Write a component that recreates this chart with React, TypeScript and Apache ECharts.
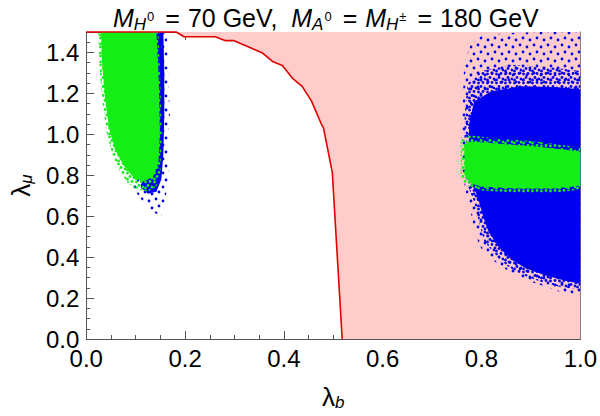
import React, { useEffect, useRef } from 'react';
import * as echarts from 'echarts';

// ---- tick labels ----
const xTickLabels = ['0.0', '0.2', '0.4', '0.6', '0.8', '1.0'];
const yTickLabels = ['0.0', '0.2', '0.4', '0.6', '0.8', '1.0', '1.2', '1.4'];

// ---- exclusion boundary (red line) ----
const boundaryX = [0, 0.182, 0.198, 0.261, 0.281, 0.298, 0.357, 0.377, 0.397, 0.417, 0.437, 0.456, 0.476, 0.48, 0.498, 0.518];
const boundaryY = [1.5, 1.5, 1.477, 1.477, 1.458, 1.458, 1.397, 1.356, 1.336, 1.275, 1.234, 1.162, 1.049, 1.033, 0.814, 0.0];

// ---- point clouds (outlines of the scatter regions) ----
const leftBlueSparse = [[0.135, 1.5], [0.163, 1.5], [0.166, 1.3], [0.169, 1.1], [0.165, 0.95], [0.167, 0.8], [0.16, 0.68], [0.152, 0.6], [0.135, 0.62], [0.115, 0.67], [0.1, 0.72], [0.09, 0.76], [0.12, 0.8], [0.14, 1.0]];
const leftBlueDense = [[0.135, 1.5], [0.156, 1.5], [0.158, 1.3], [0.158, 1.1], [0.156, 0.9], [0.152, 0.78], [0.142, 0.72], [0.125, 0.71], [0.11, 0.74], [0.13, 0.9]];
const leftGreenSparse = [[0.024, 1.5], [0.146, 1.5], [0.15, 1.25], [0.153, 1.0], [0.15, 0.82], [0.142, 0.745], [0.125, 0.72], [0.105, 0.73], [0.085, 0.76], [0.068, 0.82], [0.053, 0.9], [0.042, 1.0], [0.033, 1.15], [0.027, 1.32]];
const leftGreenDense = [[0.03, 1.5], [0.142, 1.5], [0.147, 1.25], [0.149, 1.0], [0.146, 0.86], [0.135, 0.79], [0.115, 0.77], [0.095, 0.79], [0.075, 0.85], [0.058, 0.93], [0.046, 1.03], [0.038, 1.18], [0.032, 1.35]];

const rightBlueSparse = [[0.762, 1.15], [0.765, 1.35], [0.778, 1.44], [0.8, 1.48], [0.85, 1.495], [0.92, 1.5], [1.0, 1.5], [1.0, 0.22], [0.965, 0.225], [0.93, 0.255], [0.88, 0.295], [0.85, 0.34], [0.82, 0.39], [0.8, 0.44], [0.787, 0.51], [0.78, 0.6], [0.77, 0.7], [0.762, 0.8], [0.758, 0.95]];
const rightBlueMid = [[0.766, 1.1], [0.772, 1.25], [0.8, 1.31], [0.86, 1.34], [0.93, 1.33], [1.0, 1.31], [1.0, 0.245], [0.965, 0.25], [0.92, 0.28], [0.88, 0.315], [0.85, 0.36], [0.825, 0.42], [0.805, 0.48], [0.795, 0.57], [0.785, 0.67], [0.772, 0.75], [0.765, 0.9]];
const rightBlueDense = [[0.775, 1.05], [0.785, 1.16], [0.82, 1.21], [0.88, 1.235], [0.95, 1.23], [1.0, 1.22], [1.0, 0.27], [0.97, 0.285], [0.93, 0.31], [0.89, 0.345], [0.86, 0.39], [0.835, 0.45], [0.815, 0.52], [0.803, 0.6], [0.793, 0.69], [0.78, 0.76], [0.774, 0.9]];
const rightGreenSparse = [[0.758, 0.975], [0.775, 0.995], [0.83, 0.98], [0.91, 0.965], [0.97, 0.945], [1.0, 0.935], [1.0, 0.73], [0.95, 0.715], [0.87, 0.715], [0.8, 0.725], [0.772, 0.745], [0.758, 0.79]];
const rightGreenDense = [[0.765, 0.95], [0.78, 0.965], [0.83, 0.955], [0.91, 0.94], [0.97, 0.925], [1.0, 0.915], [1.0, 0.75], [0.95, 0.735], [0.87, 0.735], [0.8, 0.745], [0.778, 0.76], [0.766, 0.8]];

// ---- styling ----
const FONT = 'Liberation Sans, Arial, Helvetica, sans-serif';
const BLUE = '#0000ee';
const GREEN = '#14ee14';
const PINK = '#ffcccc';
const RED = '#e00000';
const FRAME = '#555555';

// texture tiles used to give the sparse rims a dotted look (pure styling)
const SPARSE_TILE = { size: 14, dots: [[2, 3], [9, 5], [5, 10], [12, 12]] };
const MID_TILE = { size: 9, dots: [[1.5, 2], [6, 1.5], [4, 5.5], [8, 7], [1.5, 8]] };

function makePattern(color: string, tile: { size: number; dots: number[][] }) {
  const c = document.createElement('canvas');
  c.width = tile.size;
  c.height = tile.size;
  const ctx = c.getContext('2d');
  if (ctx) {
    ctx.fillStyle = color;
    tile.dots.forEach(([x, y]) => {
      ctx.beginPath();
      ctx.arc(x, y, 1.4, 0, Math.PI * 2);
      ctx.fill();
    });
  }
  return { type: 'pattern', image: c, repeat: 'repeat', imageWidth: tile.size, imageHeight: tile.size };
}

function polygonSeries(name: string, pts: number[][], fill: any, z: number) {
  return {
    type: 'custom',
    name,
    xAxisIndex: 0,
    yAxisIndex: 0,
    clip: true,
    silent: true,
    z,
    data: [[0.5, 0.5]],
    renderItem: (_params: any, api: any) => ({
      type: 'polygon',
      shape: { points: pts.map((p) => api.coord(p)) },
      style: { fill },
    }),
  };
}

const nameRich = {
  l: { fontSize: 26, fontFamily: FONT, color: '#000', lineHeight: 28 },
  s: { fontSize: 17, fontFamily: FONT, fontStyle: 'italic', color: '#000', lineHeight: 18, verticalAlign: 'bottom' },
};

function xAxisDef(position: 'top' | 'bottom', major: boolean, labels: boolean) {
  return {
    type: 'value',
    min: 0,
    max: 1,
    interval: major ? 0.2 : 0.05,
    position,
    axisLine: { show: major, onZero: false, lineStyle: { color: FRAME, width: 1 } },
    axisTick: { show: true, inside: true, length: major ? 8 : 4, lineStyle: { color: FRAME, width: 1 } },
    axisLabel: labels
      ? {
          show: true,
          fontSize: 24,
          color: '#000',
          fontFamily: FONT,
          margin: 7,
          formatter: (v: number) => xTickLabels[Math.round(v / 0.2)] ?? '',
        }
      : { show: false },
    splitLine: { show: false },
    ...(labels
      ? { name: '{l|λ}{s|b}', nameLocation: 'middle', nameGap: 44, nameTextStyle: { rich: nameRich } }
      : {}),
  };
}

function yAxisDef(position: 'left' | 'right', major: boolean, labels: boolean) {
  return {
    type: 'value',
    min: 0,
    max: 1.5,
    interval: major ? 0.2 : 0.05,
    position,
    axisLine: { show: major, onZero: false, lineStyle: { color: FRAME, width: 1 } },
    axisTick: { show: true, inside: true, length: major ? 8 : 4, lineStyle: { color: FRAME, width: 1 } },
    axisLabel: labels
      ? {
          show: true,
          fontSize: 24,
          color: '#000',
          fontFamily: FONT,
          margin: 7,
          formatter: (v: number) => (v > 1.45 ? '' : yTickLabels[Math.round(v / 0.2)] ?? ''),
        }
      : { show: false },
    splitLine: { show: false },
    ...(labels
      ? { name: '{l|λ}{s|μ}', nameLocation: 'middle', nameGap: 44, nameRotate: 90, nameTextStyle: { rich: nameRich } }
      : {}),
  };
}

export default function App() {
  const ref = useRef<HTMLDivElement>(null);

  useEffect(() => {
    if (!ref.current) return;
    const chart = echarts.init(ref.current, null, { renderer: 'svg' });

    const pinkRegion = boundaryX.slice(1).map((x, i) => [x, boundaryY[i + 1]]);
    pinkRegion.push([1.0, 0.0], [1.0, 1.5]);
    const boundaryLine = boundaryX.map((x, i) => [x, boundaryY[i]]);

    const blueSparse = makePattern(BLUE, SPARSE_TILE);
    const blueMid = makePattern(BLUE, MID_TILE);
    const greenSparse = makePattern(GREEN, MID_TILE);

    const base = { fontFamily: FONT, color: '#000', fontWeight: 'normal' };
    const titleRich = {
      n: { ...base, fontSize: 25, lineHeight: 30 },
      e: { ...base, fontSize: 25, lineHeight: 30, padding: [0, 8, 0, 8] },
      m: { ...base, fontSize: 25, fontStyle: 'italic', lineHeight: 30 },
      s: { ...base, fontSize: 17, fontStyle: 'italic', lineHeight: 21, verticalAlign: 'bottom' },
      p: { ...base, fontSize: 13, lineHeight: 14, verticalAlign: 'middle', padding: [0, 3, 4, 1] },
    };

    chart.setOption({
      animation: false,
      backgroundColor: '#ffffff',
      textStyle: { fontFamily: FONT },
      title: {
        text: '{m|M}{s|H}{p|0}{e|=}{n|70 GeV,  }{m|M}{s|A}{p|0}{e|=}{m|M}{s|H}{p|±}{e|=}{n|180 GeV}',
        left: 113,
        top: 3,
        padding: 0,
        textStyle: { fontWeight: 'normal', rich: titleRich },
      },
      grid: { left: 80, right: 16, top: 32, bottom: 75, containLabel: false },
      xAxis: [
        xAxisDef('bottom', true, true),
        xAxisDef('bottom', false, false),
        xAxisDef('top', true, false),
        xAxisDef('top', false, false),
      ],
      yAxis: [
        yAxisDef('left', true, true),
        yAxisDef('left', false, false),
        yAxisDef('right', true, false),
        yAxisDef('right', false, false),
      ],
      series: [
        polygonSeries('excluded', pinkRegion, PINK, 1),
        polygonSeries('leftBlueSparse', leftBlueSparse, blueSparse, 2),
        polygonSeries('leftBlueDense', leftBlueDense, BLUE, 3),
        polygonSeries('leftGreenSparse', leftGreenSparse, greenSparse, 4),
        polygonSeries('leftGreenDense', leftGreenDense, GREEN, 5),
        polygonSeries('rightBlueSparse', rightBlueSparse, blueSparse, 2),
        polygonSeries('rightBlueMid', rightBlueMid, blueMid, 3),
        polygonSeries('rightBlueDense', rightBlueDense, BLUE, 4),
        polygonSeries('rightGreenSparse', rightGreenSparse, greenSparse, 5),
        polygonSeries('rightGreenDense', rightGreenDense, GREEN, 6),
        {
          type: 'line',
          name: 'boundary',
          xAxisIndex: 0,
          yAxisIndex: 0,
          data: boundaryLine,
          symbol: 'none',
          clip: false,
          z: 7,
          lineStyle: { color: RED, width: 1.6 },
          silent: true,
        },
      ],
    });

    return () => chart.dispose();
  }, []);

  return <div ref={ref} style={{ position: 'absolute', left: 0, top: 0, width: 600, height: 416 }} />;
}
